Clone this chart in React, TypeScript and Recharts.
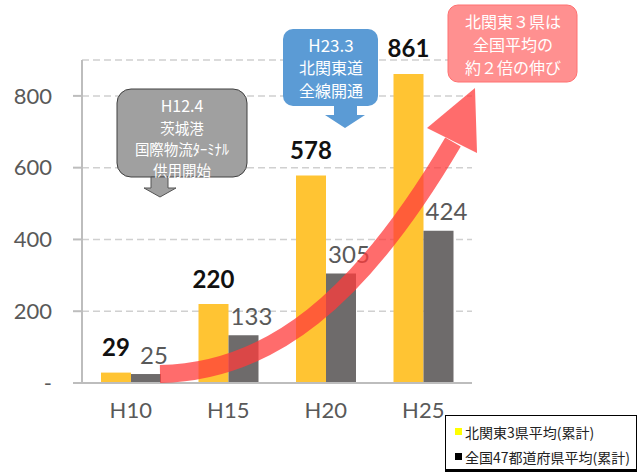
import { BarChart, Bar, XAxis, YAxis, CartesianGrid, LabelList, Legend } from "recharts";

const years = ["H10", "H15", "H20", "H25"];
const kitaKanto = [29, 220, 578, 861];
const zenkoku = [25, 133, 305, 424];
const yTicks = [0, 200, 400, 600, 800];
const seriesNames = ["北関東3県平均(累計)", "全国47都道府県平均(累計)"];
const legendColors = ["#FFFF00", "#000000"];

const data = years.map((year, i) => ({ year, kita: kitaKanto[i], zen: zenkoku[i] }));

const CJK = "'Noto Sans CJK JP', sans-serif";
const LATIN = "Lato, sans-serif";

const KitaLabel = (p: any) => (
  <text x={p.x + p.width / 2} y={p.y - 26} textAnchor="middle" dominantBaseline="central"
    fontFamily={LATIN} fontSize={24} fontWeight={700} fill="#111">{p.value}</text>
);

const ZenLabel = (p: any) => (
  <text x={p.x + p.width / 2 + 8} y={p.y - 20} textAnchor="middle" dominantBaseline="central"
    fontFamily={LATIN} fontSize={24} fill="#595959">{p.value}</text>
);

const LegendBox = () => (
  <div style={{ width: 192, height: 57, border: "1px solid #000", borderBottomWidth: 3, background: "#fff",
    fontFamily: CJK, fontSize: 14, color: "#222", boxSizing: "border-box", padding: "3px 0 0 9px" }}>
    {seriesNames.map((n, i) => (
      <div key={n} style={{ display: "flex", alignItems: "center", height: 25, whiteSpace: "nowrap" }}>
        <span style={{ width: 7, height: 7, background: legendColors[i], marginRight: 3 }} />
        <span>{n}</span>
      </div>
    ))}
  </div>
);

export default function App() {
  return (
    <div style={{ position: "absolute", left: 0, top: 0, width: 637, height: 474, background: "#fff" }}>
      <BarChart width={637} height={474} data={data} margin={{ top: 60, right: 165, bottom: 61, left: 12 }}
        barGap={0} barSize={30}>
        <CartesianGrid vertical={false} stroke="#D0D0D0" strokeDasharray="7 4" strokeWidth={1.5} />
        <XAxis dataKey="year" height={30} tickLine={false} tickSize={0} tickMargin={19}
          axisLine={{ stroke: "#BDBDBD", strokeWidth: 2 }}
          tick={{ fill: "#595959", fontSize: 22, fontFamily: LATIN }} />
        <YAxis width={70} domain={[0, 900]} ticks={yTicks} tickSize={9} tickMargin={21}
          tickFormatter={(v: number) => (v === 0 ? "-" : String(v))}
          axisLine={{ stroke: "#BDBDBD", strokeWidth: 2 }} tickLine={{ stroke: "#BDBDBD", strokeWidth: 2 }}
          tick={{ fill: "#595959", fontSize: 22, fontFamily: LATIN }} />
        <Bar dataKey="kita" name={seriesNames[0]} fill="#FFC433" isAnimationActive={false}>
          <LabelList dataKey="kita" content={KitaLabel} />
        </Bar>
        <Bar dataKey="zen" name={seriesNames[1]} fill="#6E6B6B" isAnimationActive={false}>
          <LabelList dataKey="zen" content={ZenLabel} />
        </Bar>
        <Legend layout="vertical" align="center" verticalAlign="middle" content={LegendBox}
          wrapperStyle={{ left: 445, top: 415, width: 192, height: 57 }} />
      </BarChart>

      <svg width={637} height={474} style={{ position: "absolute", left: 0, top: 0, pointerEvents: "none" }}>
        {/* growth arrow */}
        <g opacity={0.75}>
          <path d="M160,374 C270,372 360,300 453,142" stroke="#FF3B3B" strokeWidth={18} fill="none" />
          <polygon points="427,128 475,88 477,153" fill="#FF3B3B" />
        </g>

        {/* H12.4 callout */}
        <rect x={117} y={89} width={130} height={88} rx={14} fill="#A0A0A0" stroke="#404040" />
        <polygon points="151,177 168,177 168,188 176,188 160,197 144,188 151,188" fill="#A0A0A0" stroke="#555" />
        <g fill="#fff" fontFamily={CJK} fontSize={14.5} textAnchor="middle" dominantBaseline="central">
          <text x={182} y={105} fontSize={16}>H12.4</text>
          <text x={182} y={127}>茨城港</text>
          <text x={182} y={148}>国際物流ﾀｰﾐﾅﾙ</text>
          <text x={182} y={169}>供用開始</text>
        </g>

        {/* H23.3 callout */}
        <rect x={283} y={29} width={95} height={77} rx={10} fill="#5B9BD5" />
        <polygon points="334,105 357,105 357,115 365,115 345,128 325,115 334,115" fill="#5B9BD5" />
        <g fill="#fff" fontFamily={CJK} fontSize={16} textAnchor="middle" dominantBaseline="central">
          <text x={331} y={44} fontSize={17}>H23.3</text>
          <text x={331} y={67}>北関東道</text>
          <text x={331} y={90}>全線開通</text>
        </g>

        {/* pink note */}
        <rect x={448} y={5} width={129} height={77} rx={10} fill="#FF9090" stroke="#FF7070" />
        <g fill="#fff" fontFamily={CJK} fontSize={16} textAnchor="middle" dominantBaseline="central">
          <text x={513} y={21}>北関東３県は</text>
          <text x={513} y={44}>全国平均の</text>
          <text x={513} y={67}>約２倍の伸び</text>
        </g>
      </svg>
    </div>
  );
}
